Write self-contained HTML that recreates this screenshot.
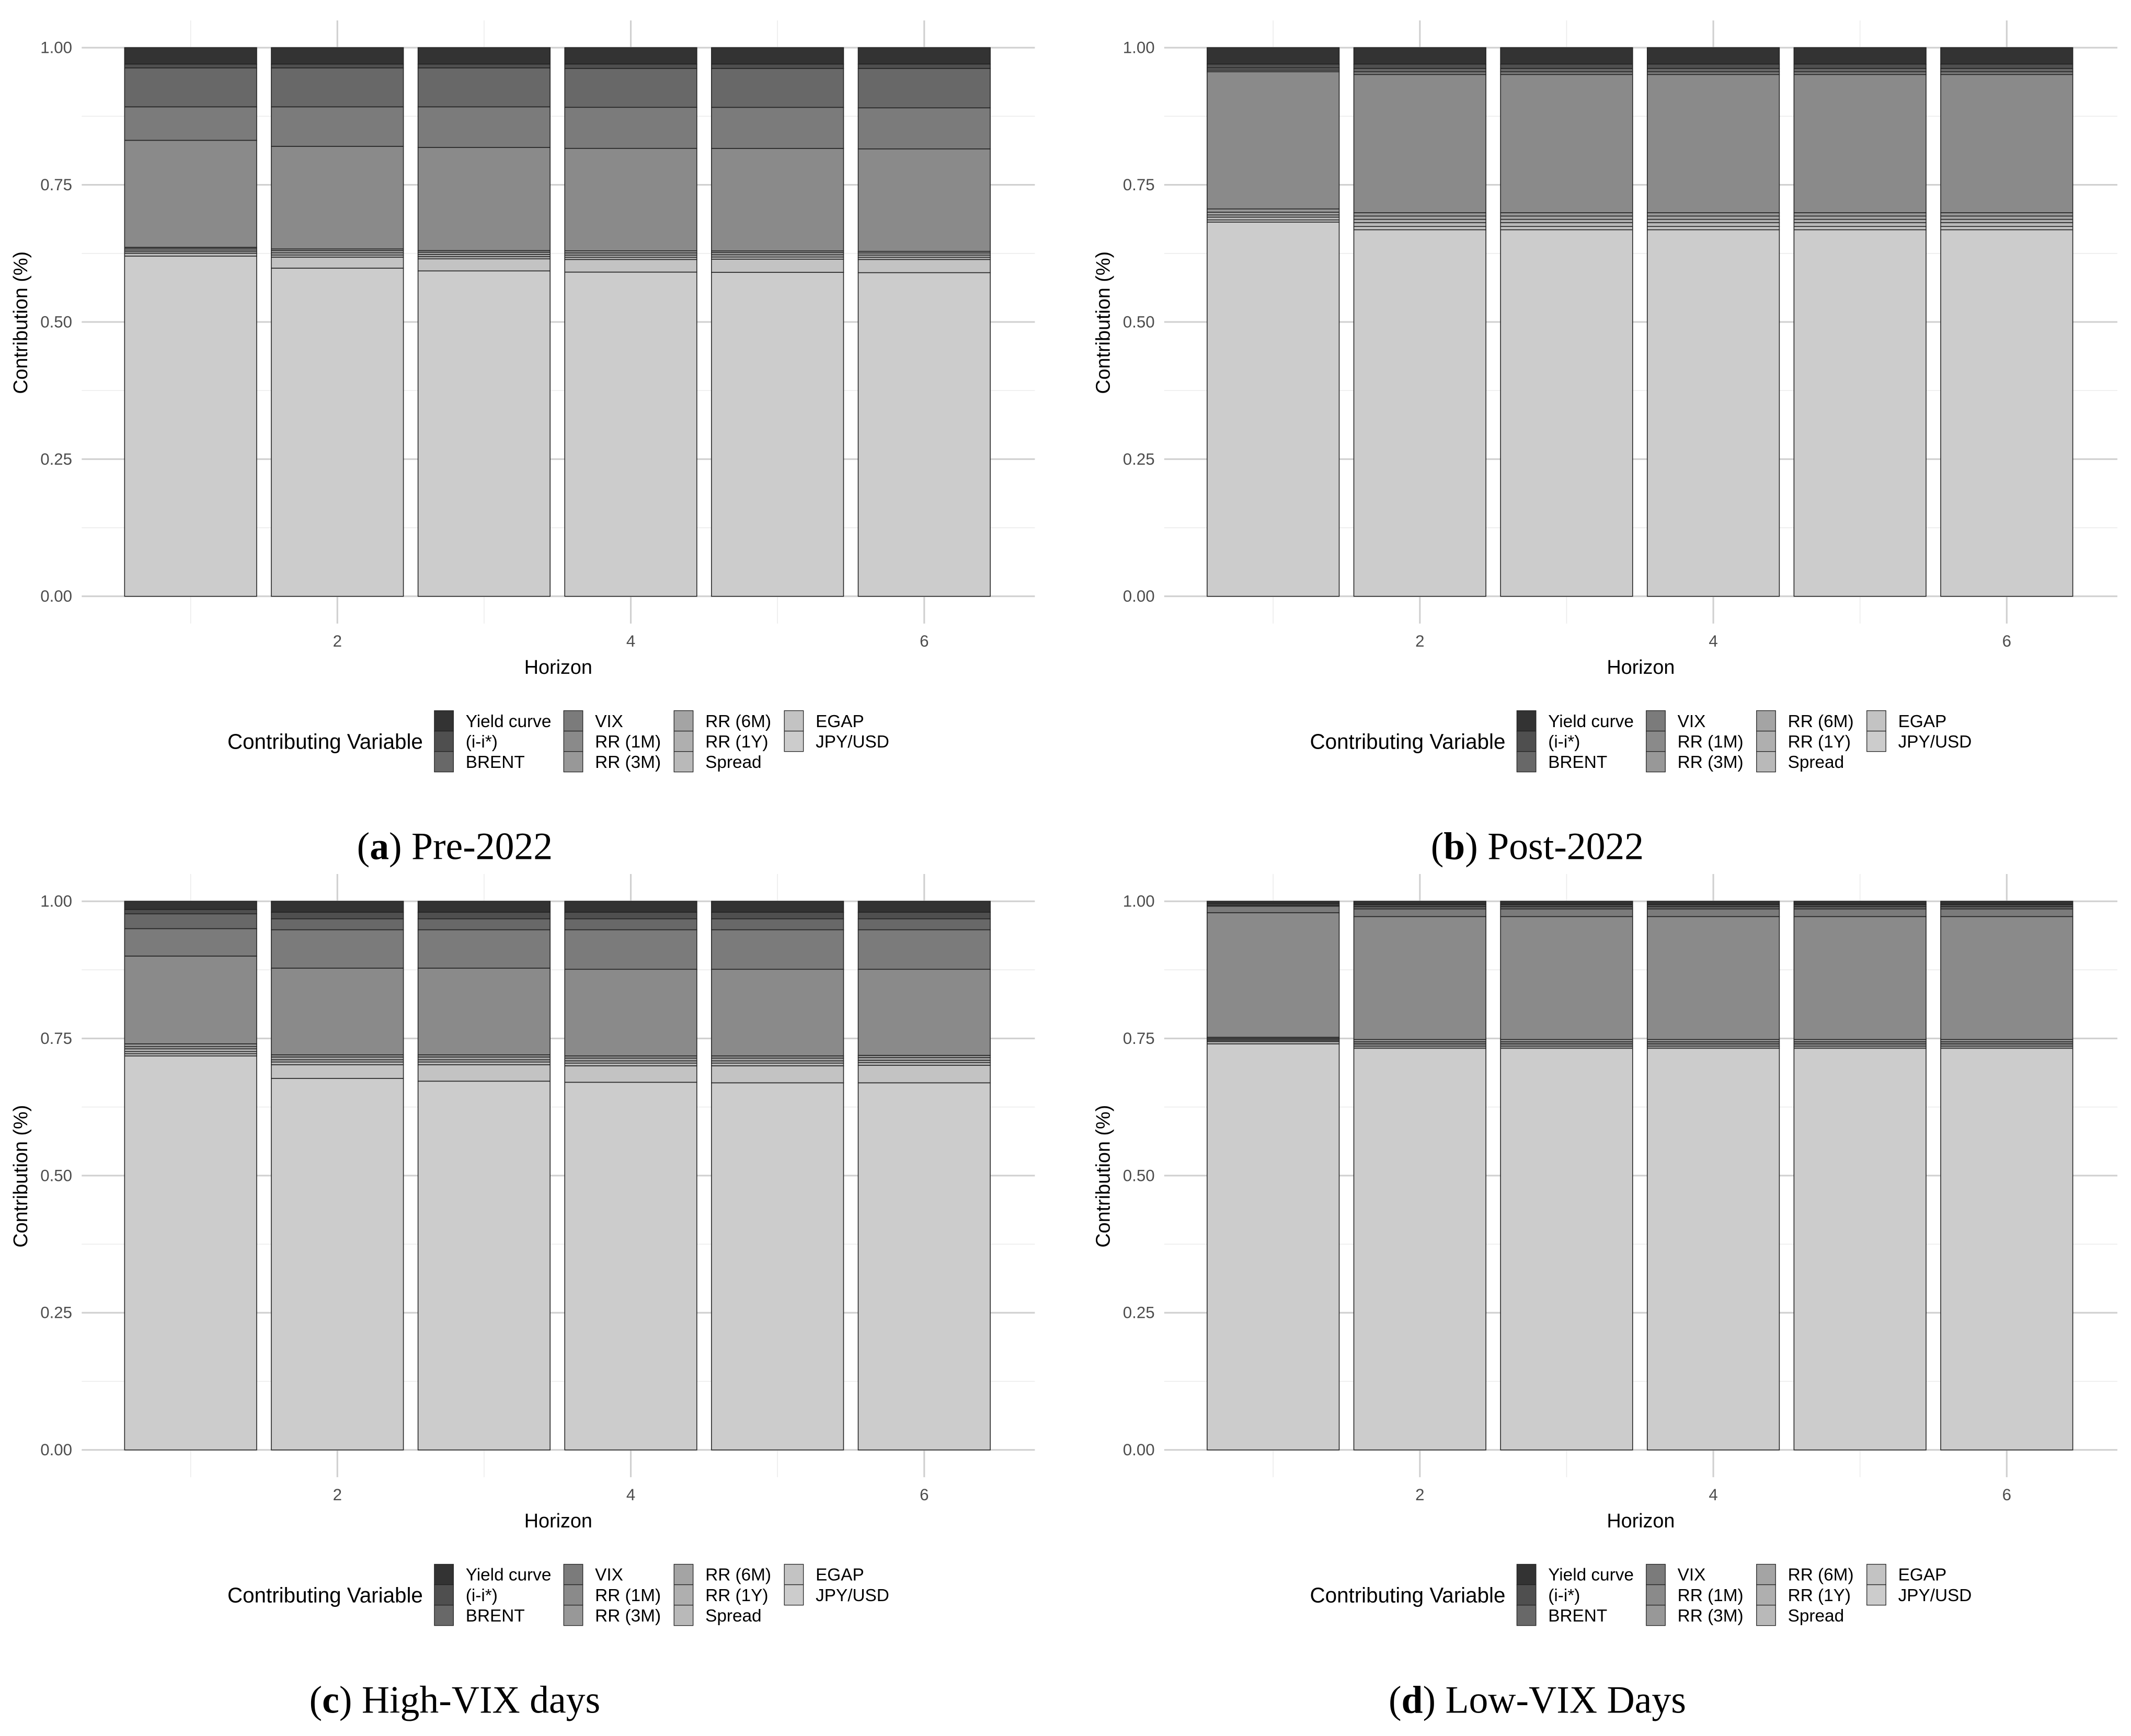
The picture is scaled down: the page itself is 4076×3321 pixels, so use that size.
<!DOCTYPE html>
<html><head><meta charset="utf-8"><style>
html,body{margin:0;padding:0;background:#fff}
svg{display:block}
text{font-family:"Liberation Sans",sans-serif}
.cap{font-family:"Liberation Serif",serif}
</style></head><body>
<svg id="fig" xmlns="http://www.w3.org/2000/svg" width="4076" height="3321" viewBox="0 0 1565 1275.13"></svg>
<script>
const horizons = [1,2,3,4,5,6];
const variables = ["Yield curve","(i-i*)","BRENT","VIX","RR (1M)","RR (3M)","RR (6M)","RR (1Y)","Spread","EGAP","JPY/USD"];
const yTicks = [0,0.25,0.5,0.75,1];
const yTickLabels = ["0.00","0.25","0.50","0.75","1.00"];
const xTicks = [2,4,6];
// panel a: Pre-2022
const aYield=[0.030,0.030,0.030,0.030,0.030,0.030];
const aII=[0.007,0.007,0.007,0.008,0.008,0.008];
const aBrent=[0.071,0.071,0.071,0.071,0.071,0.072];
const aVix=[0.061,0.072,0.074,0.075,0.075,0.075];
const aRR1M=[0.195,0.187,0.188,0.187,0.187,0.187];
const aRR3M=[0.002,0.003,0.003,0.004,0.003,0.003];
const aRR6M=[0.003,0.004,0.004,0.004,0.004,0.004];
const aRR1Y=[0.003,0.004,0.004,0.004,0.004,0.004];
const aSpread=[0.003,0.004,0.004,0.004,0.004,0.004];
const aEgap=[0.005,0.020,0.022,0.023,0.024,0.024];
const aJpy=[0.620,0.598,0.593,0.592,0.591,0.591];
// panel b: Post-2022
const bYield=[0.030,0.030,0.030,0.030,0.030,0.030];
const bII=[0.007,0.008,0.008,0.008,0.008,0.008];
const bBrent=[0.004,0.006,0.006,0.006,0.006,0.006];
const bVix=[0.003,0.005,0.005,0.005,0.005,0.005];
const bRR1M=[0.250,0.252,0.252,0.252,0.252,0.252];
const bRR3M=[0.006,0.006,0.006,0.006,0.006,0.006];
const bRR6M=[0.005,0.006,0.006,0.006,0.006,0.006];
const bRR1Y=[0.004,0.006,0.006,0.006,0.006,0.006];
const bSpread=[0.005,0.007,0.007,0.007,0.007,0.007];
const bEgap=[0.004,0.006,0.006,0.006,0.006,0.006];
const bJpy=[0.682,0.668,0.668,0.668,0.668,0.668];
// panel c: High-VIX days
const cYield=[0.015,0.020,0.020,0.020,0.020,0.020];
const cII=[0.008,0.012,0.012,0.012,0.012,0.012];
const cBrent=[0.027,0.020,0.020,0.020,0.020,0.020];
const cVix=[0.050,0.070,0.070,0.072,0.072,0.072];
const cRR1M=[0.160,0.158,0.158,0.158,0.158,0.157];
const cRR3M=[0.005,0.004,0.004,0.004,0.004,0.004];
const cRR6M=[0.004,0.005,0.005,0.005,0.005,0.005];
const cRR1Y=[0.005,0.004,0.004,0.004,0.004,0.004];
const cSpread=[0.004,0.005,0.005,0.005,0.005,0.005];
const cEgap=[0.004,0.025,0.030,0.030,0.031,0.032];
const cJpy=[0.718,0.677,0.672,0.670,0.669,0.669];
// panel d: Low-VIX days
const dYield=[0.004,0.006,0.006,0.006,0.006,0.006];
const dII=[0.003,0.004,0.004,0.004,0.004,0.004];
const dBrent=[0.002,0.004,0.004,0.004,0.004,0.004];
const dVix=[0.012,0.014,0.014,0.014,0.014,0.014];
const dRR1M=[0.227,0.224,0.224,0.224,0.224,0.224];
const dRR3M=[0.002,0.004,0.004,0.004,0.004,0.004];
const dRR6M=[0.002,0.003,0.003,0.003,0.003,0.003];
const dRR1Y=[0.002,0.003,0.003,0.003,0.003,0.003];
const dSpread=[0.002,0.003,0.003,0.003,0.003,0.003];
const dEgap=[0.004,0.003,0.003,0.003,0.003,0.003];
const dJpy=[0.740,0.732,0.732,0.732,0.732,0.732];

const fills=["#333333","#4f4f4f","#686868","#7b7b7b","#8a8a8a","#989898","#a4a4a4","#afafaf","#b9b9b9","#c3c3c3","#cccccc"];
const panels=[
 {id:"a",dx:0,dy:0,label:"a",title:" Pre-2022",series:[aYield,aII,aBrent,aVix,aRR1M,aRR3M,aRR6M,aRR1Y,aSpread,aEgap,aJpy]},
 {id:"b",dx:795,dy:0,label:"b",title:" Post-2022",series:[bYield,bII,bBrent,bVix,bRR1M,bRR3M,bRR6M,bRR1Y,bSpread,bEgap,bJpy]},
 {id:"c",dx:0,dy:627,label:"c",title:" High-VIX days",series:[cYield,cII,cBrent,cVix,cRR1M,cRR3M,cRR6M,cRR1Y,cSpread,cEgap,cJpy]},
 {id:"d",dx:795,dy:627,label:"d",title:" Low-VIX Days",series:[dYield,dII,dBrent,dVix,dRR1M,dRR3M,dRR6M,dRR1Y,dSpread,dEgap,dJpy]}
];
const NS="http://www.w3.org/2000/svg";
const svg=document.getElementById("fig");
function mk(tag,attrs,parent,txt){const e=document.createElementNS(NS,tag);for(const k in attrs)e.setAttribute(k,attrs[k]);if(txt!=null)e.textContent=txt;parent.appendChild(e);return e;}

panels.forEach(p=>{
  const g=mk("g",{transform:`translate(${p.dx},${p.dy})`},svg);
  
  
  const L=60,R=760,T=15,B=458;
  const yS=v=>438-v*403;
  const xS=h=>140+(h-1)*107.75;
  [0.125,0.375,0.625,0.875].forEach(v=>mk("line",{x1:L,x2:R,y1:yS(v),y2:yS(v),stroke:"#ebebeb","stroke-width":0.6},g));
  [1,3,5].forEach(h=>mk("line",{x1:xS(h),x2:xS(h),y1:T,y2:B,stroke:"#ebebeb","stroke-width":0.6},g));
  yTicks.forEach((v,i)=>{
    const gl=mk("line",{x1:L,x2:R,y1:yS(v),y2:yS(v),stroke:"#d0d0d0","stroke-width":1.2},g);
    
    
    const t=mk("text",{x:53,y:yS(v)+4,"text-anchor":"end","font-size":12,fill:"#4d4d4d"},g,yTickLabels[i]);
    
    
  });
  xTicks.forEach(h=>{
    mk("line",{x1:xS(h),x2:xS(h),y1:T,y2:B,stroke:"#d0d0d0","stroke-width":1.2},g);
    const t=mk("text",{x:xS(h),y:475,"text-anchor":"middle","font-size":12,fill:"#4d4d4d"},g,String(h));
    
    
  });
  horizons.forEach((h,j)=>{
    let tot=0;p.series.forEach(s=>tot+=s[j]);
    let cum=1;
    p.series.forEach((s,k)=>{
      const v=s[j]/tot;
      const y0=yS(cum),y1=yS(cum-v);
      const r=mk("rect",{x:xS(h)-48.5,y:y0,width:97,height:Math.max(y1-y0,0.1),fill:fills[k],stroke:"#222","stroke-width":0.6},g);
      
      
      cum-=v;
    });
  });
  const yt=mk("text",{x:0,y:0,transform:"translate(20,237) rotate(-90)","text-anchor":"middle","font-size":14.5},g,"Contribution (%)");
  
  
  const xt=mk("text",{x:410,y:495,"text-anchor":"middle","font-size":14.5},g,"Horizon");
  
  
  const lg=mk("g",{},g);
  
  
  mk("text",{x:167,y:550,"font-size":15.5},lg,"Contributing Variable");
  const colX=[319,414,495,576];
  variables.forEach((name,k)=>{
    const c=Math.floor(k/3),r=k%3;
    const ky=522+r*15;
    const rr=mk("rect",{x:colX[c],y:ky,width:14,height:15,fill:fills[k],stroke:"#222","stroke-width":0.5},lg);
    
    
    const t=mk("text",{x:colX[c]+23,y:ky+12,"font-size":12.8},lg,name);
    
    
  });
  const cap=mk("text",{x:334,y:631,"text-anchor":"middle","font-size":28.3,class:"cap"},g);
  
  
  mk("tspan",{},cap,"(");
  mk("tspan",{"font-weight":"bold"},cap,p.label);
  mk("tspan",{},cap,")"+p.title);
});
</script>
</body></html>
